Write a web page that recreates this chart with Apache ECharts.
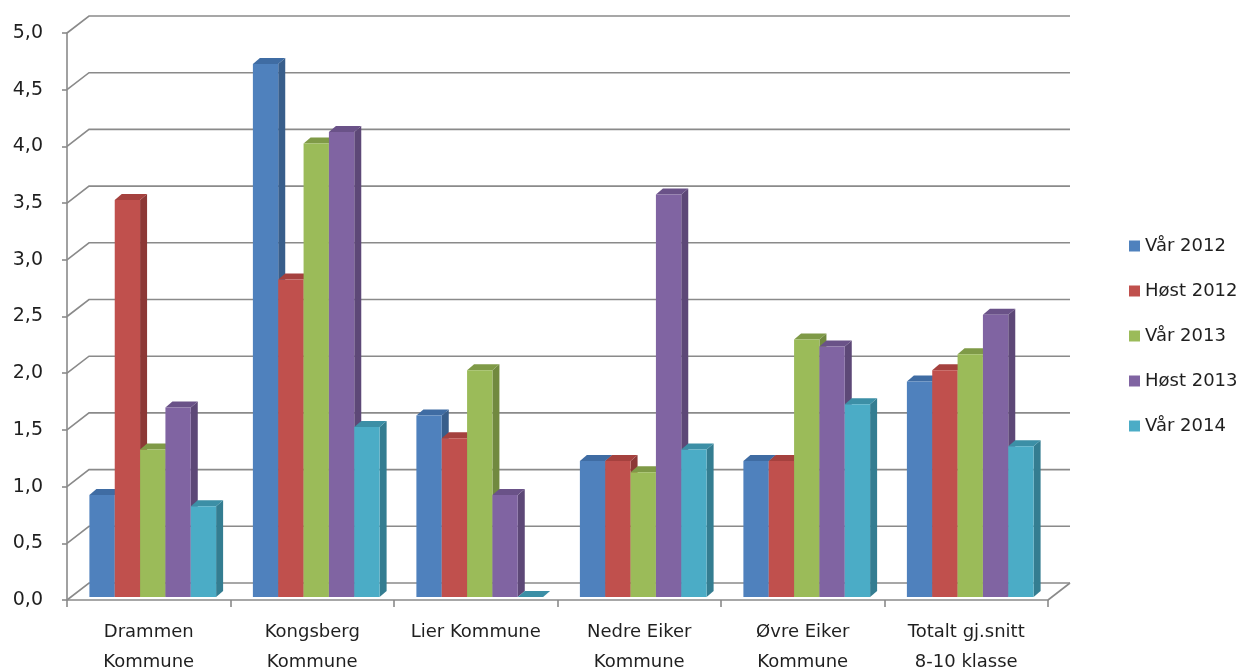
<!DOCTYPE html>
<html>
<head>
<meta charset="utf-8">
<script src="https://cdn.jsdelivr.net/npm/echarts@6/dist/echarts.min.js"></script>
<style>
  html, body { margin: 0; padding: 0; background: #ffffff; }
  #chart { width: 1254px; height: 670px; }
</style>
</head>
<body>
<div id="chart"></div>
<script>
// Kommuner along the x axis
const categories = [
  'Drammen\nKommune',
  'Kongsberg\nKommune',
  'Lier Kommune',
  'Nedre Eiker\nKommune',
  'Øvre Eiker\nKommune',
  'Totalt gj.snitt\n8-10 klasse'
];

// One list per survey round
const seriesNames = ['Vår 2012', 'Høst 2012', 'Vår 2013', 'Høst 2013', 'Vår 2014'];
const var2012  = [0.9, 4.7, 1.6, 1.2, 1.2, 1.9];
const host2012 = [3.5, 2.8, 1.4, 1.2, 1.2, 2.0];
const var2013  = [1.3, 4.0, 2.0, 1.1, 2.27, 2.14];
const host2013 = [1.67, 4.1, 0.9, 3.55, 2.21, 2.49];
const var2014  = [0.8, 1.5, 0.0, 1.3, 1.7, 1.33];
const seriesValues = [var2012, host2012, var2013, host2013, var2014];

// Value axis ticks
const yTicks = [0, 0.5, 1, 1.5, 2, 2.5, 3, 3.5, 4, 4.5, 5];

// Front, side and top shades for each series
const frontColors = ['#4F81BD', '#C0504D', '#9BBB59', '#8064A2', '#4BACC6'];
const sideColors  = ['#385E8B', '#8C3836', '#71893F', '#5D4877', '#347D91'];
const topColors   = ['#3F6CA3', '#A5413E', '#7F9A47', '#6A5288', '#3C8FA6'];

// Depth of the floor/back wall and of each column
const WALL_DX = 22, WALL_DY = -17;
const BAR_SHIFT_X = 4, BAR_SHIFT_Y = -3;
const BAR_DX = 7, BAR_DY = -6;
const BAR_FRACTION = 0.155;

const FONT = 'DejaVu Sans';
const TEXT_COLOR = '#1f1f1f';

function bar3d(sIdx) {
  return function (params, api) {
    const cat = api.value(0);
    const val = api.value(1);
    const base = api.coord([cat, 0]);
    const topPt = api.coord([cat, val]);
    const band = api.size([1, 0])[0];
    const w = band * BAR_FRACTION;
    const x0 = base[0] - w * 2.5 + sIdx * w + BAR_SHIFT_X;
    const x1 = x0 + w;
    const yb = base[1] + BAR_SHIFT_Y;
    const yt = topPt[1] + BAR_SHIFT_Y;
    return {
      type: 'group',
      children: [
        {
          type: 'polygon',
          shape: { points: [[x1, yb], [x1 + BAR_DX, yb + BAR_DY], [x1 + BAR_DX, yt + BAR_DY], [x1, yt]] },
          style: { fill: sideColors[sIdx] }
        },
        {
          type: 'polygon',
          shape: { points: [[x0, yt], [x1, yt], [x1 + BAR_DX, yt + BAR_DY], [x0 + BAR_DX, yt + BAR_DY]] },
          style: { fill: topColors[sIdx] }
        },
        {
          type: 'rect',
          shape: { x: x0, y: yt, width: w, height: Math.max(0, yb - yt) },
          style: { fill: frontColors[sIdx] }
        }
      ]
    };
  };
}

// Back wall gridlines, left wall diagonals and the right floor edge
function wallGrid(params, api) {
  const cs = params.coordSys;
  const v = api.value(1);
  const y = api.coord([0, v])[1];
  const lineStyle = { stroke: '#8A8A8A', lineWidth: 1.6, fill: null };
  const children = [
    {
      type: 'polyline',
      shape: { points: [[cs.x, y], [cs.x + WALL_DX, y + WALL_DY], [cs.x + cs.width + WALL_DX, y + WALL_DY]] },
      style: lineStyle
    }
  ];
  if (v === 0) {
    children.push({
      type: 'line',
      shape: { x1: cs.x + cs.width, y1: y, x2: cs.x + cs.width + WALL_DX, y2: y + WALL_DY },
      style: lineStyle
    });
  }
  return { type: 'group', children: children };
}

const chart = echarts.init(document.getElementById('chart'), null, { renderer: 'canvas' });

const series = [
  {
    type: 'custom',
    name: 'wall',
    renderItem: wallGrid,
    data: yTicks.map(v => [0, v]),
    encode: { x: 0, y: 1 },
    silent: true,
    z: 1
  }
];
seriesNames.forEach((name, i) => {
  series.push({
    type: 'custom',
    name: name,
    renderItem: bar3d(i),
    data: seriesValues[i].map((v, c) => [c, v]),
    encode: { x: 0, y: 1 },
    itemStyle: { color: frontColors[i] },
    z: 2
  });
});

chart.setOption({
  backgroundColor: '#ffffff',
  animation: false,
  grid: { left: 67, right: 206, top: 33, bottom: 70, containLabel: false, outerBoundsMode: 'none' },
  legend: {
    data: seriesNames.map(n => ({ name: n, icon: 'rect' })),
    orient: 'vertical',
    left: 1124,
    top: 232,
    itemWidth: 11,
    itemHeight: 11,
    itemGap: 27,
    textStyle: { fontFamily: FONT, fontSize: 18, color: TEXT_COLOR }
  },
  xAxis: {
    type: 'category',
    data: categories,
    boundaryGap: true,
    axisLine: { show: true, lineStyle: { color: '#8A8A8A', width: 1.6 } },
    axisTick: { show: true, length: 7, lineStyle: { color: '#8A8A8A', width: 1.6 } },
    axisLabel: {
      interval: 0,
      margin: 17,
      fontFamily: FONT,
      fontSize: 18,
      lineHeight: 30,
      color: TEXT_COLOR
    },
    splitLine: { show: false }
  },
  yAxis: {
    type: 'value',
    min: 0,
    max: 5,
    interval: 0.5,
    axisLine: { show: true, lineStyle: { color: '#8A8A8A', width: 1.6 } },
    axisTick: { show: true, length: 5, lineStyle: { color: '#8A8A8A', width: 1.6 } },
    axisLabel: {
      margin: 24,
      fontFamily: FONT,
      fontSize: 19,
      color: TEXT_COLOR,
      formatter: v => v.toFixed(1).replace('.', ',')
    },
    splitLine: { show: false }
  },
  series: series
});
</script>
</body>
</html>
